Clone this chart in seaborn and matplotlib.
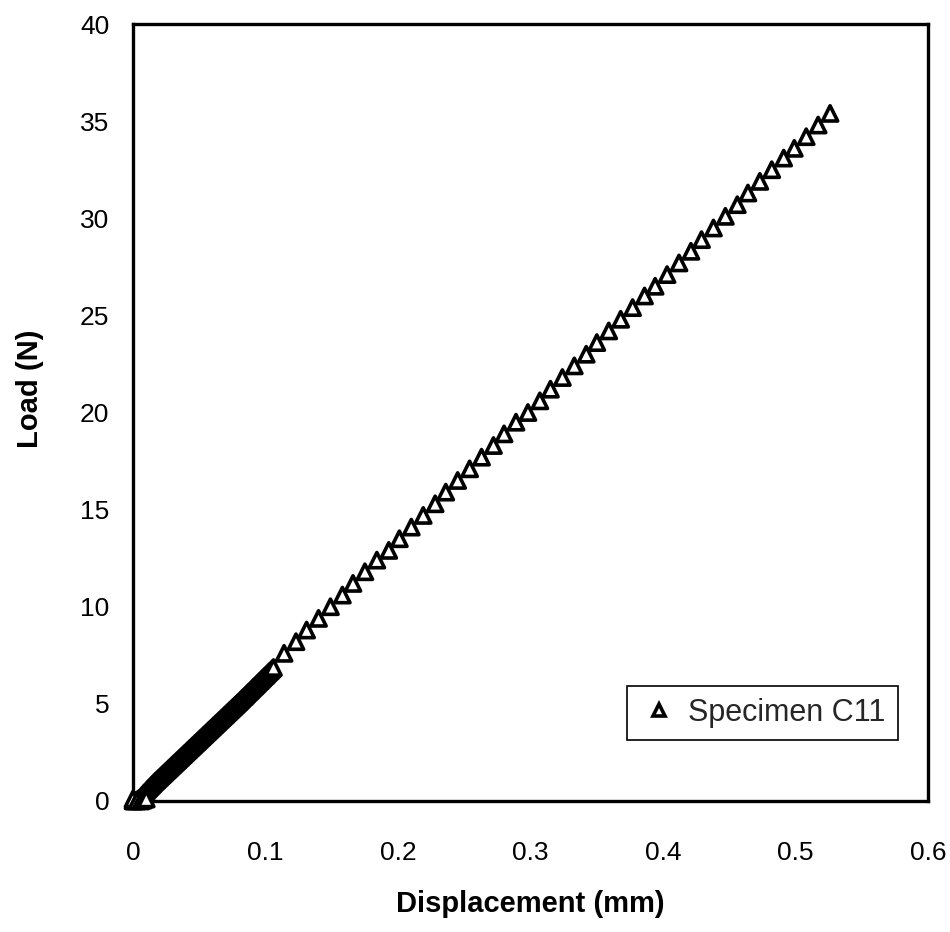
import matplotlib
matplotlib.use("Agg")
import matplotlib.pyplot as plt
import seaborn as sns
import pandas as pd

# Early, densely sampled part of the load-displacement record (mm, N)
dense_disp = [0.000, 0.001, 0.002, 0.003, 0.004, 0.005, 0.006, 0.007, 0.008, 0.009,
              0.010, 0.011, 0.012, 0.013, 0.014, 0.015, 0.016, 0.017, 0.018, 0.019,
              0.020, 0.021, 0.022, 0.023, 0.024, 0.025, 0.026, 0.027, 0.028, 0.029,
              0.030, 0.031, 0.032, 0.033, 0.034, 0.035, 0.036, 0.037, 0.038, 0.039,
              0.040, 0.041, 0.042, 0.043, 0.044, 0.045, 0.046, 0.047, 0.048, 0.049,
              0.050, 0.051, 0.052, 0.053, 0.054, 0.055, 0.056, 0.057, 0.058, 0.059,
              0.060, 0.061, 0.062, 0.063, 0.064, 0.065, 0.066, 0.067, 0.068, 0.069,
              0.070, 0.071, 0.072, 0.073, 0.074, 0.075, 0.076, 0.077, 0.078, 0.079,
              0.080, 0.081, 0.082, 0.083, 0.084, 0.085, 0.086, 0.087, 0.088, 0.089,
              0.090, 0.091, 0.092, 0.093, 0.094, 0.095, 0.096, 0.097, 0.098, 0.099,
              0.100, 0.101, 0.102, 0.103, 0.104, 0.105, 0.106,
              0.000, 0.003, 0.006, 0.008, 0.010]
dense_load = [0.00, 0.00, 0.02, 0.05, 0.10, 0.15, 0.22, 0.30, 0.38, 0.45,
              0.52, 0.60, 0.67, 0.74, 0.81, 0.88, 0.95, 1.02, 1.08, 1.15,
              1.21, 1.28, 1.34, 1.41, 1.47, 1.54, 1.60, 1.67, 1.73, 1.80,
              1.86, 1.93, 1.99, 2.06, 2.12, 2.19, 2.25, 2.32, 2.38, 2.45,
              2.51, 2.58, 2.64, 2.71, 2.77, 2.84, 2.90, 2.97, 3.03, 3.10,
              3.16, 3.23, 3.29, 3.36, 3.42, 3.49, 3.55, 3.62, 3.68, 3.75,
              3.81, 3.88, 3.94, 4.01, 4.07, 4.14, 4.20, 4.27, 4.33, 4.40,
              4.46, 4.53, 4.59, 4.66, 4.72, 4.79, 4.85, 4.92, 4.98, 5.05,
              5.11, 5.18, 5.25, 5.32, 5.38, 5.45, 5.52, 5.59, 5.65, 5.72,
              5.79, 5.86, 5.92, 5.99, 6.06, 6.13, 6.19, 6.26, 6.33, 6.40,
              6.46, 6.53, 6.60, 6.67, 6.73, 6.80, 6.87,
              0.10, 0.00, 0.00, 0.05, 0.10]

# Later, sparser readings
sparse_disp = [0.114, 0.123, 0.131, 0.140, 0.149, 0.158, 0.166, 0.175, 0.184, 0.193,
               0.201, 0.210, 0.219, 0.228, 0.236, 0.245, 0.254, 0.263, 0.272, 0.280,
               0.289, 0.298, 0.307, 0.315, 0.324, 0.333, 0.342, 0.350, 0.359, 0.368,
               0.377, 0.386, 0.394, 0.403, 0.412, 0.421, 0.429, 0.438, 0.447, 0.456,
               0.464, 0.473, 0.482, 0.491, 0.499, 0.508, 0.517, 0.526]
sparse_load = [7.6, 8.2, 8.8, 9.4, 10.0, 10.6, 11.2, 11.8, 12.4, 12.9,
               13.5, 14.1, 14.7, 15.3, 15.9, 16.5, 17.1, 17.7, 18.3, 18.9,
               19.5, 20.0, 20.6, 21.2, 21.8, 22.4, 23.0, 23.6, 24.2, 24.8,
               25.4, 26.0, 26.5, 27.1, 27.7, 28.3, 28.9, 29.5, 30.1, 30.7,
               31.3, 31.9, 32.5, 33.1, 33.6, 34.2, 34.8, 35.4]

specimen = "Specimen C11"
x_ticks = [0, 0.1, 0.2, 0.3, 0.4, 0.5, 0.6]
x_tick_labels = ["0", "0.1", "0.2", "0.3", "0.4", "0.5", "0.6"]
y_ticks = [0, 5, 10, 15, 20, 25, 30, 35, 40]
y_tick_labels = ["0", "5", "10", "15", "20", "25", "30", "35", "40"]

df = pd.DataFrame({
    "Displacement (mm)": dense_disp + sparse_disp,
    "Load (N)": dense_load + sparse_load,
    "series": [specimen] * (len(dense_disp) + len(sparse_disp)),
})

sns.set_theme(style="white")
plt.rcParams["font.family"] = ["Liberation Sans", "DejaVu Sans"]

fig = plt.figure(figsize=(9.5, 9.32), dpi=100)
ax = fig.add_axes([0.140, 0.1406, 0.837, 0.8336])

sns.scatterplot(data=df, x="Displacement (mm)", y="Load (N)", hue="series",
                palette=["white"], marker="^", s=120, edgecolor="black",
                linewidth=2.6, ax=ax, legend=True, clip_on=False, zorder=3)

ax.set_xlim(0, 0.6)
ax.set_ylim(0, 40)
ax.set_xticks(x_ticks)
ax.set_xticklabels(x_tick_labels)
ax.set_yticks(y_ticks)
ax.set_yticklabels(y_tick_labels)
ax.tick_params(axis="both", direction="out", length=7, width=1.5,
               colors="black", labelsize=19)
ax.tick_params(axis="x", pad=22)
ax.tick_params(axis="y", pad=10)

for side in ["left", "right", "top", "bottom"]:
    ax.spines[side].set_visible(True)
    ax.spines[side].set_color("black")
    ax.spines[side].set_linewidth(2.4)

ax.set_xlabel("Displacement (mm)", fontsize=21, fontweight="bold",
              color="black", labelpad=18)
ax.set_ylabel("Load (N)", fontsize=21, fontweight="bold", color="black")
ax.yaxis.set_label_coords(-0.112, 0.53)

handles, labels = ax.get_legend_handles_labels()
leg = ax.legend(handles, labels, loc="lower right",
                bbox_to_anchor=(0.962, 0.078), fontsize=22,
                frameon=True, fancybox=False, framealpha=1,
                edgecolor="black", markerscale=0.75,
                handletextpad=0.3, handlelength=1.3, borderpad=0.4,
                borderaxespad=0)
leg.get_frame().set_linewidth(1.2)

fig.savefig("out.png", dpi=100, facecolor="white")
